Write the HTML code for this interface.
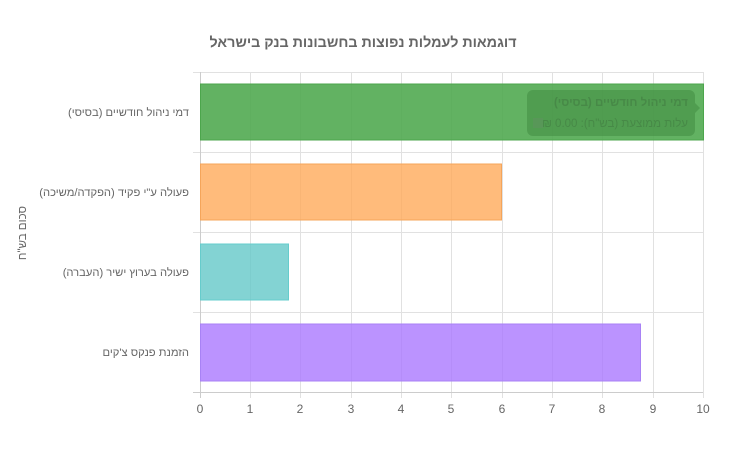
<!DOCTYPE html>
<html><head><meta charset="utf-8"><style>body{margin:0;background:#fff}svg{display:block}text{font-family:"Liberation Sans","Noto Sans CJK SC",sans-serif}</style></head><body>
<svg width="738" height="456" xmlns="http://www.w3.org/2000/svg">
<text x="363" y="47" text-anchor="middle" font-size="14.3" font-weight="bold" fill="#666">דוגמאות לעמלות נפוצות בחשבונות בנק בישראל</text>
<g stroke="#e1e1e1" stroke-width="1">
<line x1="193" y1="72.5" x2="703" y2="72.5"/><line x1="193" y1="152.5" x2="703" y2="152.5"/><line x1="193" y1="232.5" x2="703" y2="232.5"/><line x1="193" y1="312.5" x2="703" y2="312.5"/>
<line x1="250.5" y1="72" x2="250.5" y2="398"/><line x1="300.5" y1="72" x2="300.5" y2="398"/><line x1="351.5" y1="72" x2="351.5" y2="398"/><line x1="401.5" y1="72" x2="401.5" y2="398"/><line x1="451.5" y1="72" x2="451.5" y2="398"/><line x1="502.5" y1="72" x2="502.5" y2="398"/><line x1="552.5" y1="72" x2="552.5" y2="398"/><line x1="602.5" y1="72" x2="602.5" y2="398"/><line x1="653.5" y1="72" x2="653.5" y2="398"/><line x1="703.5" y1="72" x2="703.5" y2="398"/>
</g>
<line x1="193" y1="392.5" x2="703" y2="392.5" stroke="#ccc"/>
<line x1="200.5" y1="72" x2="200.5" y2="398" stroke="#ccc"/>
<rect x="200.5" y="84" width="503" height="56" fill="rgba(76,167,76,0.88)" stroke="#4ca64c"/>
<rect x="200.5" y="164" width="301" height="56" fill="rgba(255,170,90,0.8)" stroke="#f5a55a"/>
<rect x="200.5" y="244" width="88" height="56" fill="rgba(100,200,200,0.8)" stroke="#6cc"/>
<rect x="200.5" y="324" width="440" height="57" fill="rgba(170,120,255,0.8)" stroke="#a882f5"/>
<rect x="527" y="90" width="168" height="46" rx="6" fill="rgba(60,130,60,0.45)"/>
<path d="M695 103 L700 108 L695 113 Z" fill="rgba(60,130,60,0.45)"/>
<text x="688" y="106" direction="rtl" text-anchor="start" font-size="11.5" font-weight="bold" fill="rgba(70,135,70,0.9)">דמי ניהול חודשיים (בסיסי)</text>
<rect x="533" y="118" width="10" height="10" fill="rgba(90,150,90,0.8)"/>
<text x="688" y="127" direction="rtl" text-anchor="start" font-size="11.5" fill="rgba(70,135,70,0.9)">עלות ממוצעת (בש"ח): 0.00 ₪</text>
<g font-size="11.2" fill="#666" text-anchor="end">
<text x="189" y="116">דמי ניהול חודשיים (בסיסי)</text>
<text x="189" y="196">פעולה ע"י פקיד (הפקדה/משיכה)</text>
<text x="189" y="276">פעולה בערוץ ישיר (העברה)</text>
<text x="189" y="356">הזמנת פנקס צ'קים</text>
</g>
<g font-size="12" fill="#666" text-anchor="middle">
<text x="200" y="413">0</text><text x="250" y="413">1</text><text x="300" y="413">2</text><text x="351" y="413">3</text><text x="401" y="413">4</text><text x="451" y="413">5</text><text x="502" y="413">6</text><text x="552" y="413">7</text><text x="602" y="413">8</text><text x="653" y="413">9</text><text x="703" y="413">10</text>
</g>
<text transform="translate(26,233) rotate(-90)" text-anchor="middle" font-size="11.5" fill="#666">סכום בש"ח</text>
</svg>
</body></html>
